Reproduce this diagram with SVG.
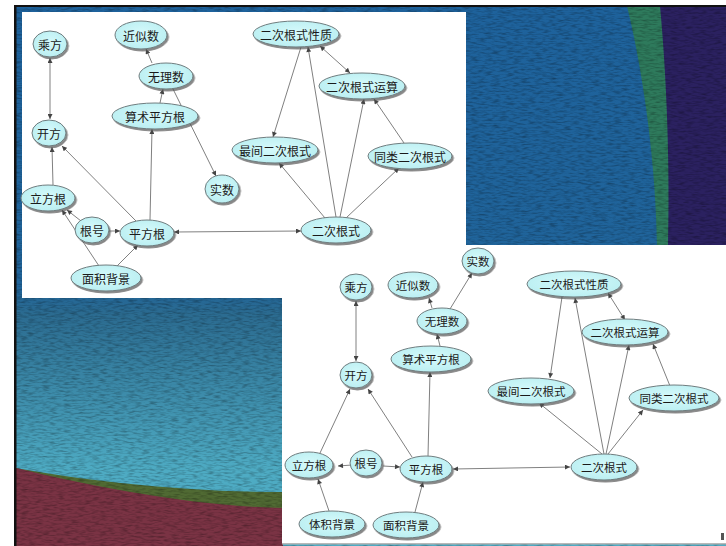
<svg xmlns="http://www.w3.org/2000/svg" width="726" height="546" viewBox="0 0 726 546">
  <defs>
    <linearGradient id="slideBg" gradientUnits="userSpaceOnUse" x1="0" y1="6" x2="0" y2="546">
      <stop offset="0" stop-color="#1e629c"/>
      <stop offset="0.52" stop-color="#20649a"/>
      <stop offset="0.57" stop-color="#2b6b90"/>
      <stop offset="0.86" stop-color="#4eabc3"/>
      <stop offset="1" stop-color="#4eabc3"/>
    </linearGradient>
    <filter id="grain" x="0" y="0" width="100%" height="100%">
      <feTurbulence type="fractalNoise" baseFrequency="0.14 0.55" numOctaves="2" seed="7" result="n"/>
      <feColorMatrix in="n" type="matrix" values="0 0 0 0 0  0 0 0 0 0  0 0 0 0 0  1.8 0 0 0 -0.75" result="a"/>
      <feComposite in="a" in2="SourceGraphic" operator="in"/>
    </filter>
    <filter id="shadow" x="-20%" y="-30%" width="150%" height="170%">
      <feDropShadow dx="1.5" dy="2" stdDeviation="0.7" flood-color="#555" flood-opacity="0.7"/>
    </filter>
    <radialGradient id="nodeFill" cx="0.5" cy="0.45" r="0.6">
      <stop offset="0" stop-color="#d6fafb"/>
      <stop offset="1" stop-color="#b8eef1"/>
    </radialGradient>
    <marker id="arr" viewBox="0 0 10 10" refX="10" refY="5" markerWidth="6" markerHeight="5" markerUnits="userSpaceOnUse" orient="auto-start-reverse">
      <path d="M0,0 L10,5 L0,10 z" fill="#444"/>
    </marker>
  </defs>
  <style>
    .node ellipse { fill: url(#nodeFill); stroke: #6f7c7e; stroke-width: 1; filter: url(#shadow); }
    .node text { font-family: "Noto Sans CJK SC", "Liberation Serif", serif; font-size: 12px; fill: #1a1a1a; text-anchor: middle; dominant-baseline: central; }
    #diagram-b .node text { font-size: 11.5px; }
    .edges path { fill: none; stroke: #808080; stroke-width: 1; marker-end: url(#arr); }
    .edges path.both { marker-start: url(#arr); }
  </style>

  <!-- page and slide backdrop -->
  <rect x="0" y="0" width="726" height="546" fill="#ffffff"/>
  <rect x="16" y="6" width="710" height="540" fill="url(#slideBg)"/>
  <!-- right-hand green and violet bands -->
  <path d="M627,6 C645,80 656,170 657,246 L726,246 L726,6 Z" fill="#2e7a5c"/>
  <path d="M660,6 C667,80 670,170 668,246 L726,246 L726,6 Z" fill="#2b2160"/>
  <!-- lower-left olive strip and maroon ground -->
  <path d="M16,468 C80,480 180,492 283,492 L283,546 L16,546 Z" fill="#506a33"/>
  <path d="M16,468 C90,486 190,506 283,508 L283,546 L16,546 Z" fill="#7a3344"/>
  <!-- surface grain -->
  <rect x="16" y="6" width="710" height="540" fill="#000" opacity="0.35" filter="url(#grain)"/>
  <!-- slide frame -->
  <rect x="14" y="5" width="712" height="2" fill="#111"/>
  <rect x="14" y="5" width="2.5" height="541" fill="#111"/>

  <!-- white panels -->
  <rect x="22" y="12" width="444" height="286" fill="#ffffff"/>
  <rect x="282" y="245" width="444" height="298" fill="#ffffff"/>
  <rect x="282" y="543" width="444" height="1.5" fill="#b8b8b8"/>
  <rect x="721" y="533" width="3" height="7" fill="#555"/>

  <!-- upper diagram -->
  <g id="diagram-a">
    <g class="edges" id="edges-a">
      <path class="both" d="M50,58 L50,119"/>
      <path d="M152,63 L146,49"/>
      <path d="M173,89 L216,176"/>
      <path d="M160,103 L163,89"/>
      <path d="M150,220 L152,129"/>
      <path d="M53,185 L52,147"/>
      <path d="M136,221 L62,146"/>
      <path d="M81,221 L67,210"/>
      <path d="M109,231 L120,231"/>
      <path d="M99,266 L62,210"/>
      <path d="M117,266 L138,245"/>
      <path class="both" d="M174,232 L301,231"/>
      <path d="M301,47 L273,137"/>
      <path d="M336,217 L308,47"/>
      <path class="both" d="M320,46 L350,73"/>
      <path d="M340,217 L364,99"/>
      <path d="M404,143 L374,99"/>
      <path d="M325,218 L279,163"/>
      <path d="M346,218 L399,168"/>
    </g>
    <g class="node" id="a-chengfang"><ellipse cx="50" cy="44" rx="17" ry="13"/><text x="50" y="44">乘方</text></g>
    <g class="node" id="a-kaifang"><ellipse cx="49" cy="133" rx="17" ry="13"/><text x="49" y="133">开方</text></g>
    <g class="node" id="a-jinsishu"><ellipse cx="141" cy="35" rx="26" ry="14"/><text x="141" y="35">近似数</text></g>
    <g class="node" id="a-wulishu"><ellipse cx="166" cy="76" rx="27" ry="13"/><text x="166" y="76">无理数</text></g>
    <g class="node" id="a-suanshu"><ellipse cx="155" cy="116" rx="43" ry="13"/><text x="155" y="116">算术平方根</text></g>
    <g class="node" id="a-shishu"><ellipse cx="222" cy="189" rx="17" ry="14"/><text x="222" y="189">实数</text></g>
    <g class="node" id="a-lifanggen"><ellipse cx="48" cy="198" rx="27" ry="13"/><text x="48" y="198">立方根</text></g>
    <g class="node" id="a-genhao"><ellipse cx="92" cy="230" rx="17" ry="13"/><text x="92" y="230">根号</text></g>
    <g class="node" id="a-pingfanggen"><ellipse cx="147" cy="233" rx="27" ry="13"/><text x="147" y="233">平方根</text></g>
    <g class="node" id="a-mianji"><ellipse cx="106" cy="278" rx="35" ry="13"/><text x="106" y="278">面积背景</text></g>
    <g class="node" id="a-xingzhi"><ellipse cx="296" cy="34" rx="43" ry="13"/><text x="296" y="34">二次根式性质</text></g>
    <g class="node" id="a-yunsuan"><ellipse cx="362" cy="86" rx="43" ry="13"/><text x="362" y="86">二次根式运算</text></g>
    <g class="node" id="a-zuijian"><ellipse cx="275" cy="150" rx="43" ry="13"/><text x="275" y="150">最间二次根式</text></g>
    <g class="node" id="a-tonglei"><ellipse cx="410" cy="156" rx="42" ry="13"/><text x="410" y="156">同类二次根式</text></g>
    <g class="node" id="a-ercigenshi"><ellipse cx="336" cy="230" rx="35" ry="13"/><text x="336" y="230">二次根式</text></g>
  </g>

  <!-- lower diagram -->
  <g id="diagram-b">
    <g class="edges" id="edges-b">
      <path class="both" d="M356,301 L356,361"/>
      <path d="M432,308 L429,298"/>
      <path d="M450,309 L472,273"/>
      <path d="M440,346 L437,334"/>
      <path d="M428,456 L430,372"/>
      <path d="M320,453 L350,389"/>
      <path d="M412,457 L368,389"/>
      <path d="M352,465 L338,466"/>
      <path d="M383,466 L400,467"/>
      <path d="M329,511 L318,479"/>
      <path d="M415,512 L423,482"/>
      <path class="both" d="M453,469 L570,467"/>
      <path d="M562,297 L550,378"/>
      <path d="M604,454 L575,298"/>
      <path class="both" d="M608,293 L625,320"/>
      <path d="M606,454 L629,345"/>
      <path d="M670,386 L653,344"/>
      <path d="M602,454 L539,403"/>
      <path d="M608,454 L643,410"/>
    </g>
    <g class="node" id="b-chengfang"><ellipse cx="356" cy="287" rx="16" ry="13"/><text x="356" y="287">乘方</text></g>
    <g class="node" id="b-jinsishu"><ellipse cx="413" cy="285" rx="25" ry="13"/><text x="413" y="285">近似数</text></g>
    <g class="node" id="b-shishu"><ellipse cx="478" cy="261" rx="16" ry="13"/><text x="478" y="261">实数</text></g>
    <g class="node" id="b-wulishu"><ellipse cx="442" cy="321" rx="25" ry="13"/><text x="442" y="321">无理数</text></g>
    <g class="node" id="b-suanshu"><ellipse cx="431" cy="359" rx="40" ry="13"/><text x="431" y="359">算术平方根</text></g>
    <g class="node" id="b-kaifang"><ellipse cx="356" cy="375" rx="16" ry="13"/><text x="356" y="375">开方</text></g>
    <g class="node" id="b-xingzhi"><ellipse cx="574" cy="284" rx="47" ry="13"/><text x="574" y="284">二次根式性质</text></g>
    <g class="node" id="b-yunsuan"><ellipse cx="625" cy="332" rx="43" ry="13"/><text x="625" y="332">二次根式运算</text></g>
    <g class="node" id="b-zuijian"><ellipse cx="531" cy="391" rx="43" ry="13"/><text x="531" y="391">最间二次根式</text></g>
    <g class="node" id="b-tonglei"><ellipse cx="674" cy="398" rx="45" ry="13"/><text x="674" y="398">同类二次根式</text></g>
    <g class="node" id="b-lifanggen"><ellipse cx="309" cy="465" rx="24" ry="13"/><text x="309" y="465">立方根</text></g>
    <g class="node" id="b-genhao"><ellipse cx="366" cy="463" rx="16" ry="13"/><text x="366" y="463">根号</text></g>
    <g class="node" id="b-pingfanggen"><ellipse cx="426" cy="469" rx="26" ry="13"/><text x="426" y="469">平方根</text></g>
    <g class="node" id="b-ercigenshi"><ellipse cx="604" cy="467" rx="33" ry="13"/><text x="604" y="467">二次根式</text></g>
    <g class="node" id="b-tiji"><ellipse cx="332" cy="524" rx="33" ry="13"/><text x="332" y="524">体积背景</text></g>
    <g class="node" id="b-mianji"><ellipse cx="406" cy="525" rx="33" ry="13"/><text x="406" y="525">面积背景</text></g>
  </g>
</svg>
